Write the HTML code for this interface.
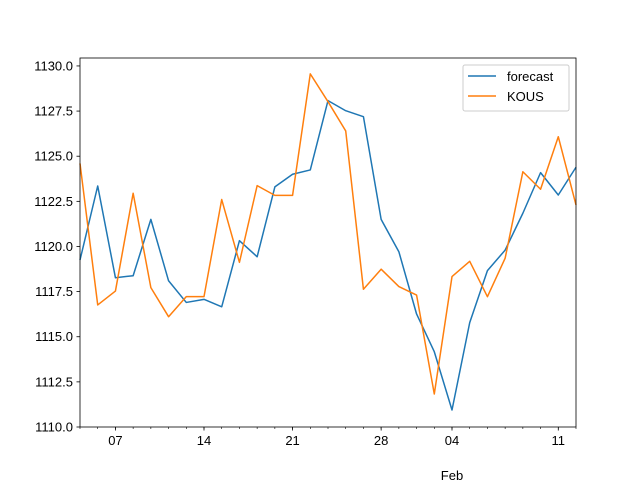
<!DOCTYPE html>
<html><head><meta charset="utf-8"><style>
body{margin:0;background:#fff;}
svg text{font-family:"Liberation Sans","DejaVu Sans",sans-serif;font-size:13px;fill:#000;}
</style></head><body>
<svg id="chart" width="640" height="480">
<rect width="640" height="480" fill="#fff"/>
<g id="grid"></g>
<g id="series"></g>
<g id="axes"></g>
</svg>
<script>
const forecast=[1119.25,1123.35,1118.27,1118.38,1121.5,1118.1,1116.9,1117.07,1116.66,1120.32,1119.43,1123.3,1124.0,1124.24,1128.08,1127.52,1127.19,1121.5,1119.71,1116.26,1114.17,1110.94,1115.78,1118.66,1119.8,1121.84,1124.09,1122.85,1124.39];
const kous=[1124.6,1116.76,1117.53,1122.95,1117.72,1116.11,1117.22,1117.22,1122.6,1119.12,1123.37,1122.83,1122.83,1129.56,1128.02,1126.4,1117.63,1118.74,1117.78,1117.31,1111.83,1118.33,1119.18,1117.22,1119.35,1124.14,1123.17,1126.08,1122.3];
const xTickIdx=[2,7,12,17,21,27];
const xTickLabels=["07","14","21","28","04","11"];
const yTicks=[1110.0,1112.5,1115.0,1117.5,1120.0,1122.5,1125.0,1127.5,1130.0];
const L=80,R=576,T=58,B=427,yMin=1110,yMax=1130.44,n=forecast.length;
const xs=i=>L+(R-L)*i/(n-1);
const ys=v=>B-(v-yMin)/(yMax-yMin)*(B-T);
const NS="http://www.w3.org/2000/svg";
function mk(tag,attrs,parent){const e=document.createElementNS(NS,tag);for(const k in attrs)e.setAttribute(k,attrs[k]);parent.appendChild(e);return e;}
const ax=document.getElementById('axes'),sg=document.getElementById('series');
function line(data,color,name){
  const p=mk('polyline',{points:data.map((v,i)=>xs(i)+','+ys(v)).join(' '),fill:'none',stroke:color,'stroke-width':1.5,'stroke-linejoin':'round'},sg);
  
  
}
line(forecast,'#1f77b4','forecast-line');
line(kous,'#ff7f0e','kous-line');
const fr=mk('rect',{x:L,y:T,width:R-L,height:B-T,fill:'none',stroke:'#000','stroke-width':0.8},ax);


for(let i=0;i<n;i++){mk('line',{x1:xs(i),x2:xs(i),y1:B,y2:B+2,stroke:'#000','stroke-width':0.6},ax);}
xTickIdx.forEach((idx,k)=>{
  mk('line',{x1:xs(idx),x2:xs(idx),y1:B,y2:B+3.5,stroke:'#000','stroke-width':0.8},ax);
  const t=mk('text',{x:xs(idx),y:B+18,'text-anchor':'middle'},ax);t.textContent=xTickLabels[k];
  
  
});
const fb=mk('text',{x:xs(21),y:480,'text-anchor':'middle'},ax);fb.textContent='Feb';


yTicks.forEach(v=>{
  mk('line',{x1:L-3.5,x2:L,y1:ys(v),y2:ys(v),stroke:'#000','stroke-width':0.8},ax);
  const t=mk('text',{x:L-7,y:ys(v)+4.5,'text-anchor':'end'},ax);t.textContent=v.toFixed(1);
  
  
});
const lg=mk('g',{},ax);


mk('rect',{x:463,y:65,width:106,height:46,rx:2,fill:'#fff','fill-opacity':0.8,stroke:'#ccc'},lg);
mk('line',{x1:468,x2:496,y1:76,y2:76,stroke:'#1f77b4','stroke-width':1.5},lg);
mk('line',{x1:468,x2:496,y1:96,y2:96,stroke:'#ff7f0e','stroke-width':1.5},lg);
const l1=mk('text',{x:507,y:81},lg);l1.textContent='forecast';


const l2=mk('text',{x:507,y:101},lg);l2.textContent='KOUS';


</script>
</body></html>
